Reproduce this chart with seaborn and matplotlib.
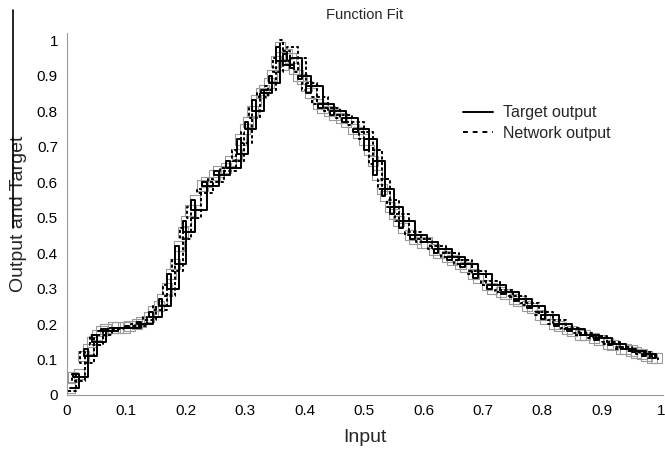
import matplotlib
matplotlib.use("Agg")
import matplotlib.pyplot as plt
from matplotlib.lines import Line2D
import seaborn as sns
import pandas as pd

# ---- data (sample order as recorded: inputs are not monotonic) ----
target_x = [0.005, 0.020, 0.010, 0.035, 0.028, 0.050, 0.042, 0.065, 0.058, 0.085,
            0.078, 0.105, 0.098, 0.125, 0.118, 0.145, 0.138, 0.160, 0.155, 0.175,
            0.168, 0.188, 0.182, 0.200, 0.195, 0.215, 0.208, 0.235, 0.228, 0.255,
            0.248, 0.275, 0.268, 0.292, 0.286, 0.305, 0.300, 0.318, 0.312, 0.332,
            0.326, 0.345, 0.340, 0.358, 0.352, 0.370, 0.364, 0.382, 0.376, 0.395,
            0.389, 0.410, 0.403, 0.430, 0.422, 0.450, 0.442, 0.470, 0.462, 0.490,
            0.482, 0.508, 0.500, 0.522, 0.515, 0.535, 0.530, 0.550, 0.544, 0.565,
            0.558, 0.585, 0.578, 0.605, 0.598, 0.625, 0.618, 0.648, 0.640, 0.670,
            0.662, 0.692, 0.684, 0.715, 0.707, 0.738, 0.730, 0.760, 0.752, 0.782,
            0.774, 0.805, 0.797, 0.828, 0.820, 0.850, 0.842, 0.872, 0.864, 0.895,
            0.887, 0.918, 0.910, 0.940, 0.932, 0.958, 0.950, 0.975, 0.968, 0.992,
            0.985]
target_y = [0.02, 0.06, 0.05, 0.13, 0.11, 0.17, 0.15, 0.185, 0.18, 0.19,
            0.19, 0.195, 0.19, 0.205, 0.20, 0.235, 0.22, 0.27, 0.25, 0.34,
            0.30, 0.42, 0.37, 0.49, 0.46, 0.55, 0.52, 0.60, 0.59, 0.63,
            0.62, 0.66, 0.64, 0.72, 0.68, 0.77, 0.75, 0.83, 0.80, 0.86,
            0.85, 0.90, 0.88, 0.98, 0.94, 0.96, 0.93, 0.92, 0.95, 0.89,
            0.90, 0.85, 0.87, 0.81, 0.82, 0.79, 0.80, 0.77, 0.78, 0.74,
            0.75, 0.69, 0.72, 0.62, 0.66, 0.56, 0.58, 0.51, 0.53, 0.47,
            0.49, 0.44, 0.45, 0.43, 0.43, 0.40, 0.41, 0.38, 0.39, 0.36,
            0.37, 0.33, 0.34, 0.30, 0.31, 0.285, 0.29, 0.265, 0.27, 0.245,
            0.25, 0.215, 0.225, 0.195, 0.20, 0.18, 0.185, 0.17, 0.17, 0.155,
            0.16, 0.14, 0.145, 0.13, 0.13, 0.12, 0.125, 0.11, 0.115, 0.105,
            0.105]

network_x = [0.002, 0.015, 0.008, 0.030, 0.022, 0.045, 0.038, 0.060, 0.052, 0.075,
             0.068, 0.095, 0.088, 0.115, 0.108, 0.135, 0.128, 0.150, 0.145, 0.168,
             0.162, 0.182, 0.176, 0.195, 0.190, 0.208, 0.202, 0.225, 0.218, 0.245,
             0.238, 0.265, 0.258, 0.285, 0.278, 0.298, 0.293, 0.312, 0.306, 0.325,
             0.320, 0.338, 0.333, 0.352, 0.346, 0.364, 0.358, 0.376, 0.370, 0.388,
             0.382, 0.402, 0.396, 0.420, 0.412, 0.440, 0.432, 0.460, 0.452, 0.480,
             0.472, 0.500, 0.492, 0.515, 0.508, 0.530, 0.524, 0.544, 0.538, 0.558,
             0.552, 0.575, 0.568, 0.595, 0.588, 0.615, 0.608, 0.638, 0.630, 0.660,
             0.652, 0.682, 0.674, 0.705, 0.697, 0.728, 0.720, 0.750, 0.742, 0.772,
             0.764, 0.795, 0.787, 0.818, 0.810, 0.840, 0.832, 0.862, 0.854, 0.885,
             0.877, 0.908, 0.900, 0.930, 0.922, 0.950, 0.942, 0.965, 0.958, 0.985,
             0.978, 0.995]
network_y = [0.01, 0.06, 0.04, 0.12, 0.09, 0.17, 0.14, 0.18, 0.17, 0.19,
             0.185, 0.19, 0.19, 0.20, 0.195, 0.22, 0.21, 0.25, 0.24, 0.31,
             0.28, 0.38, 0.35, 0.47, 0.44, 0.53, 0.50, 0.58, 0.57, 0.61,
             0.60, 0.64, 0.63, 0.69, 0.66, 0.74, 0.71, 0.81, 0.78, 0.85,
             0.84, 0.87, 0.86, 0.95, 0.91, 1.00, 0.97, 0.94, 0.98, 0.91,
             0.95, 0.86, 0.88, 0.82, 0.84, 0.80, 0.81, 0.78, 0.79, 0.76,
             0.77, 0.72, 0.74, 0.65, 0.69, 0.58, 0.61, 0.53, 0.55, 0.49,
             0.51, 0.45, 0.46, 0.43, 0.44, 0.41, 0.42, 0.39, 0.40, 0.37,
             0.38, 0.34, 0.35, 0.31, 0.32, 0.29, 0.295, 0.275, 0.28, 0.255,
             0.26, 0.225, 0.235, 0.20, 0.21, 0.185, 0.19, 0.17, 0.175, 0.16,
             0.165, 0.145, 0.15, 0.13, 0.135, 0.125, 0.125, 0.115, 0.12, 0.105,
             0.11, 0.10]

tick_values = [0, 0.1, 0.2, 0.3, 0.4, 0.5, 0.6, 0.7, 0.8, 0.9, 1]
tick_labels = ["0", "0.1", "0.2", "0.3", "0.4", "0.5", "0.6", "0.7", "0.8", "0.9", "1"]

target_df = pd.DataFrame({"x": target_x, "y": target_y})
network_df = pd.DataFrame({"x": network_x, "y": network_y})

sns.set_theme(style="white")
plt.rcParams["font.family"] = ["Liberation Sans", "DejaVu Sans"]

fig = plt.figure(figsize=(6.65, 4.51), dpi=100)
ax = fig.add_axes([67 / 665, 1 - 395 / 451, 596 / 665, 362 / 451])

# gray hollow squares at samples
sns.scatterplot(data=target_df, x="x", y="y", ax=ax, marker="s", s=55,
                facecolors="none", edgecolor="#9a9a9a", linewidth=0.8, zorder=1)

sns.lineplot(data=target_df, x="x", y="y", ax=ax, sort=False, estimator=None,
             drawstyle="steps-post", color="black", linewidth=1.4, zorder=3)
sns.lineplot(data=network_df, x="x", y="y", ax=ax, sort=False, estimator=None,
             drawstyle="steps-post", color="black", linewidth=1.4,
             dashes=False, zorder=4)
ax.lines[-1].set_dashes([1.6, 1.2])

ax.set_xlim(0, 1.003)
ax.set_ylim(0, 1.02)
ax.set_xticks(tick_values)
ax.set_xticklabels(tick_labels)
ax.set_yticks(tick_values)
ax.set_yticklabels(tick_labels)
ax.tick_params(axis="both", direction="in", length=5, width=0.8, color="#999999",
               labelsize=11, pad=6.5, labelcolor="black")
for side in ["top", "right"]:
    ax.spines[side].set_visible(False)
for side in ["left", "bottom"]:
    ax.spines[side].set_color("#999999")
    ax.spines[side].set_linewidth(0.8)

ax.set_title("Function Fit", fontsize=10.5, pad=10)
ax.set_xlabel("Input", fontsize=14, labelpad=8)
ax.set_ylabel("Output and Target", fontsize=14, labelpad=7)

handles = [Line2D([0], [0], color="black", lw=1.4),
           Line2D([0], [0], color="black", lw=1.4, dashes=[2.5, 2.5])]
ax.legend(handles, ["Target output", "Network output"], loc="upper left",
          bbox_to_anchor=(0.664, 0.80), frameon=False, fontsize=11.5,
          handlelength=1.9, handletextpad=0.6, labelspacing=0.35,
          borderaxespad=0, borderpad=0)

fig.add_artist(Line2D([13 / 665, 13 / 665], [1 - 10 / 451, 1 - 228 / 451],
                      color="black", lw=1.2, transform=fig.transFigure))

fig.savefig("out.png", dpi=100)
